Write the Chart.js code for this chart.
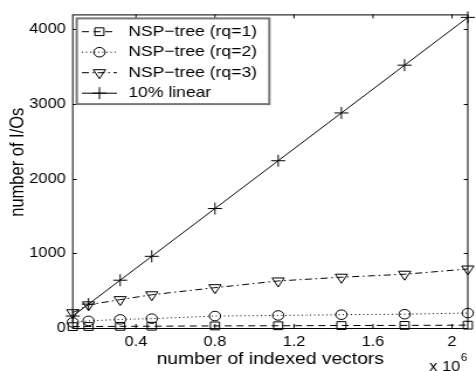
<!DOCTYPE html>
<html>
<head>
<meta charset="utf-8">
<script src="https://cdn.jsdelivr.net/npm/chart.js@4/dist/chart.umd.min.js"></script>
<style>
  html, body { margin: 0; padding: 0; background: #fff; }
</style>
</head>
<body>
<!-- the source figure is stretched sideways, so draw narrower and widen with CSS -->
<canvas id="ioChart" width="407" height="371" style="display:block;width:476px;height:371px"></canvas>
<script>
const vectors = [0.08, 0.16, 0.32, 0.48, 0.8, 1.12, 1.44, 1.76, 2.08]; // x 10^6
const rq1 = [18, 20, 22, 24, 28, 30, 33, 35, 38];
const rq2 = [75, 95, 115, 125, 160, 168, 178, 185, 200];
const rq3 = [205, 310, 380, 445, 540, 630, 680, 720, 790];
const linear10 = [160, 320, 640, 960, 1600, 2240, 2880, 3520, 4160];

const xTicks = [0.4, 0.8, 1.2, 1.6, 2];
const xTickLabels = ["0.4", "0.8", "1.2", "1.6", "2"];
const yTicks = [0, 1000, 2000, 3000, 4000];

const FONT = "'Liberation Sans', Arial, Helvetica, sans-serif";

const series = (label, values, style) => Object.assign({
  label,
  data: vectors.map((x, i) => ({ x, y: values[i] })),
  borderColor: "#000",
  borderWidth: 1,
  pointBorderColor: "#000",
  pointBackgroundColor: "rgba(0,0,0,0)",
  pointBorderWidth: 1,
  fill: false,
  tension: 0,
  clip: false
}, style);

/* box, inward ticks on all sides, y label, legend and the x10^6 note */
const frame = {
  id: "frame",
  afterDraw(chart) {
    const { ctx, chartArea: a, scales: { x, y } } = chart;
    ctx.save();
    ctx.strokeStyle = "#000";
    ctx.lineWidth = 1;
    ctx.setLineDash([]);
    ctx.strokeRect(a.left, a.top + 0.5, a.right - a.left, a.bottom - a.top);
    ctx.beginPath();
    xTicks.forEach(v => {
      const px = x.getPixelForValue(v);
      ctx.moveTo(px, a.bottom); ctx.lineTo(px, a.bottom - 4);
      ctx.moveTo(px, a.top); ctx.lineTo(px, a.top + 4);
    });
    yTicks.forEach(v => {
      const py = Math.round(y.getPixelForValue(v)) + 0.5;
      ctx.moveTo(a.left, py); ctx.lineTo(a.left + 3.4, py);
      ctx.moveTo(a.right, py); ctx.lineTo(a.right - 3.4, py);
    });
    ctx.stroke();

    // y label (sits a little above the axis centre in the original)
    ctx.fillStyle = "#000";
    ctx.font = "16.5px " + FONT;
    ctx.textAlign = "center";
    ctx.textBaseline = "middle";
    ctx.save();
    ctx.translate(15.4, (a.top + a.bottom) / 2 - 9);
    ctx.rotate(-Math.PI / 2);
    ctx.fillText("number of I/Os", 0, 0);
    ctx.restore();
    ctx.textAlign = "left";

    // legend
    const lx = a.left + 3.4, ly = a.top + 4;
    ctx.fillStyle = "#fff";
    ctx.fillRect(lx, ly, 164.7, 85.7);
    ctx.strokeStyle = "#777";
    ctx.lineWidth = 2;
    ctx.strokeRect(lx, ly, 164.7, 85.7);
    ctx.font = "15px " + FONT;
    chart.data.datasets.forEach((ds, i) => {
      const ry = ly + 13.3 + i * 20.5;
      ctx.strokeStyle = "#000";
      ctx.lineWidth = 1;
      ctx.setLineDash(ds.borderDash || []);
      ctx.beginPath();
      ctx.moveTo(lx + 4.4, ry); ctx.lineTo(lx + 34.4, ry);
      ctx.stroke();
      ctx.setLineDash([]);
      ctx.fillStyle = "rgba(0,0,0,0)";
      Chart.helpers.drawPoint(ctx, {
        pointStyle: ds.pointStyle, radius: ds.pointRadius,
        rotation: ds.pointRotation || 0, borderWidth: 1
      }, lx + 19.4, ry);
      ctx.fillStyle = "#000";
      ctx.fillText(ds.label, lx + 44.1, ry);
    });

    // exponent
    ctx.textBaseline = "alphabetic";
    ctx.font = "14px " + FONT;
    ctx.fillText("x 10", a.right - 33, 371);
    ctx.font = "10px " + FONT;
    ctx.fillText("6", a.right - 6, 361);
    ctx.restore();
  }
};

new Chart(document.getElementById("ioChart"), {
  type: "line",
  data: {
    datasets: [
      series("NSP\u2212tree (rq=1)", rq1, { borderDash: [6, 4], pointStyle: "rect", pointRadius: 5.5 }),
      series("NSP\u2212tree (rq=2)", rq2, { borderDash: [1, 2.5], pointStyle: "circle", pointRadius: 4.8 }),
      series("NSP\u2212tree (rq=3)", rq3, { borderDash: [6, 3, 1.5, 3], pointStyle: "triangle", pointRotation: 180, pointRadius: 6 }),
      series("10% linear", linear10, { pointStyle: "cross", pointRadius: 6 })
    ]
  },
  options: {
    responsive: false,
    devicePixelRatio: 1,
    animation: false,
    layout: { padding: { top: 12, right: 1.7, left: 0, bottom: 0 } },
    plugins: { legend: { display: false }, tooltip: { enabled: false } },
    scales: {
      x: {
        type: "linear",
        min: 0.08,
        max: 2.08,
        afterBuildTicks: s => { s.ticks = xTicks.map(v => ({ value: v })); },
        afterFit: s => { s.height = 43; },
        grid: { display: false, drawTicks: false },
        border: { display: false },
        ticks: {
          autoSkip: false, maxRotation: 0, padding: 6, color: "#000",
          font: { family: FONT, size: 14 },
          callback: (v, i) => xTickLabels[i]
        },
        title: {
          display: true, text: "number of indexed vectors", color: "#000",
          font: { family: FONT, size: 16.5 }, padding: { top: 0, bottom: 2 }
        }
      },
      y: {
        min: 0,
        max: 4200,
        afterBuildTicks: s => { s.ticks = yTicks.map(v => ({ value: v })); },
        afterFit: s => { s.width = 62.2; },
        grid: { display: false, drawTicks: false },
        border: { display: false },
        ticks: {
          autoSkip: false, padding: 6, color: "#000",
          font: { family: FONT, size: 14 },
          callback: v => String(v)
        }
      }
    }
  },
  plugins: [frame]
});
</script>
</body>
</html>
